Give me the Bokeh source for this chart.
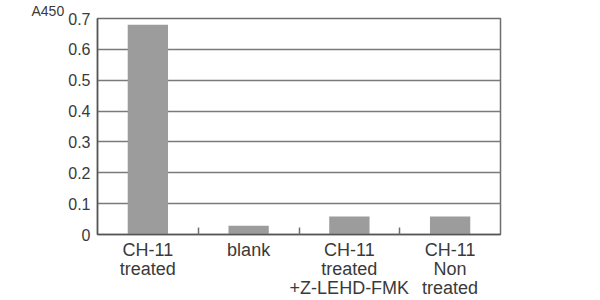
from bokeh.plotting import figure
from bokeh.models import FixedTicker, Range1d, Title, ColumnDataSource
from bokeh.embed import file_html
from bokeh.resources import INLINE

categories = ["CH-11\ntreated", "blank", "CH-11\ntreated\n+Z-LEHD-FMK", "CH-11\nNon\ntreated"]
values = [0.68, 0.028, 0.058, 0.058]
y_ticks = [0, 0.1, 0.2, 0.3, 0.4, 0.5, 0.6, 0.7]
y_label = "A450"

xpos = [i + 0.5 for i in range(len(categories))]
src = ColumnDataSource(dict(x=xpos, top=values, cat=categories))

p = figure(width=600, height=300, output_backend="svg", toolbar_location=None,
           x_range=Range1d(0, len(categories)), y_range=Range1d(0, 0.7),
           min_border_left=97, min_border_right=100, min_border_top=17, min_border_bottom=66)
p.background_fill_color = "white"
p.border_fill_color = "white"
p.outline_line_color = "#6e6e6e"
p.outline_line_width = 1.5

p.vbar(x="x", top="top", width=0.4, bottom=0, source=src, fill_color="#9c9c9c", line_color=None)

text_color = "#3a3a3a"
font = "Liberation Sans"

# x axis
p.xaxis.ticker = FixedTicker(ticks=xpos, minor_ticks=list(range(1, len(categories))))
p.xaxis.major_label_overrides = {x: c for x, c in zip(xpos, categories)}
p.xaxis.major_tick_in = 0
p.xaxis.major_tick_out = 0
p.xaxis.minor_tick_in = 7
p.xaxis.minor_tick_out = 0
p.xaxis.minor_tick_line_color = "#6e6e6e"
p.xaxis.minor_tick_line_width = 1.5
p.xaxis.axis_line_color = "#555555"
p.xaxis.axis_line_width = 1.5
p.xaxis.major_label_text_font = font
p.xaxis.major_label_text_font_size = "18px"
p.xaxis.major_label_text_color = text_color
p.xaxis.major_label_standoff = 5
p.xaxis.major_label_text_line_height = 0.96

# y axis
p.yaxis.ticker = FixedTicker(ticks=y_ticks)
p.yaxis.major_label_overrides = {0: "0"}
p.yaxis.major_tick_in = 0
p.yaxis.major_tick_out = 0
p.yaxis.minor_tick_line_color = None
p.yaxis.axis_line_color = "#555555"
p.yaxis.axis_line_width = 1.5
p.yaxis.major_label_text_font = font
p.yaxis.major_label_text_font_size = "16px"
p.yaxis.major_label_text_color = text_color
p.yaxis.major_label_standoff = 7

p.xgrid.grid_line_color = None
p.ygrid.ticker = FixedTicker(ticks=y_ticks)
p.ygrid.grid_line_color = "#7a7a7a"
p.ygrid.grid_line_width = 1.5

t = Title(text=y_label, align="left", offset=-66, standoff=0, text_font=font,
          text_font_size="14px", text_font_style="normal", text_color=text_color)
p.add_layout(t, "above")

open("out.html", "w").write(file_html(p, INLINE))
